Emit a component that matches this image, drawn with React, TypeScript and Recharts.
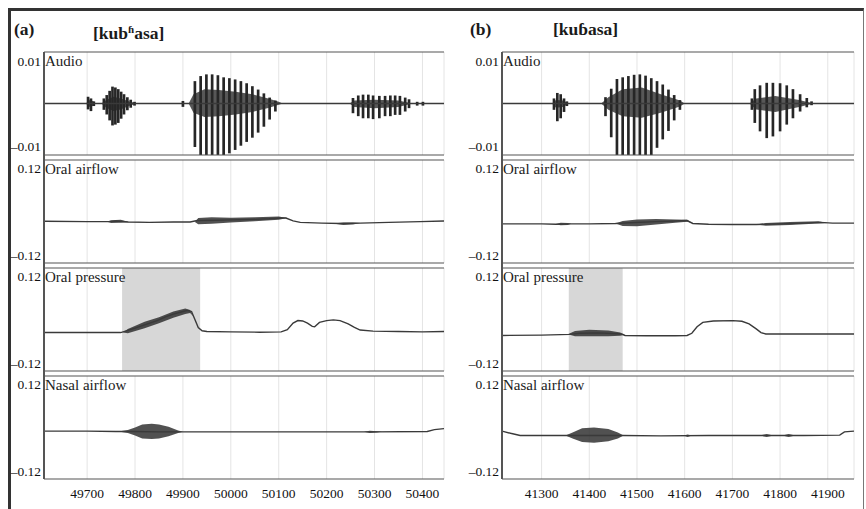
import React from "react";
import { ComposedChart, Line, Area, XAxis, YAxis, CartesianGrid, ReferenceArea, ReferenceLine } from "recharts";

const SERIF = "'Liberation Serif', 'Times New Roman', Times, 'DejaVu Serif', serif";

// x ranges and tick labels
const domainA = [49610, 50445];
const ticksA = [49700, 49800, 49900, 50000, 50100, 50200, 50300, 50400];
const domainB = [41217, 41955];
const ticksB = [41300, 41400, 41500, 41600, 41700, 41800, 41900];

const audioMax = 0.0122;
const audioTicks = [-0.01, 0.01];
const flowMax = 0.142;
const flowTicks = [-0.12, 0.12];

// audio: individual pulses [t, lo, hi]
const audioPulsesA = [
  [49702, -0.0014, 0.0016], [49708, -0.0018, 0.0012], [49714, -0.0006, 0.0005],
  [49735, -0.0015, 0.0012], [49741, -0.0026, 0.002], [49747, -0.004, 0.003],
  [49753, -0.0052, 0.004], [49759, -0.005, 0.0038], [49765, -0.0046, 0.0034],
  [49771, -0.0036, 0.0028], [49777, -0.0026, 0.0022], [49784, -0.0016, 0.0015],
  [49791, -0.001, 0.0009], [49799, -0.0005, 0.0004],
  [49900, -0.0008, 0.0006],
  [49925, -0.0103, 0.0053], [49937, -0.0122, 0.0065], [49949, -0.0122, 0.0069],
  [49961, -0.0122, 0.0069], [49973, -0.0122, 0.0067], [49985, -0.0122, 0.0062],
  [49997, -0.0118, 0.006], [50009, -0.011, 0.0057], [50021, -0.01, 0.0053],
  [50033, -0.0091, 0.0048], [50045, -0.0081, 0.0041], [50057, -0.0069, 0.0033],
  [50069, -0.0055, 0.0024], [50081, -0.0038, 0.0014], [50093, -0.0019, 0.0007],
  [50255, -0.0023, 0.0013], [50266, -0.003, 0.0019], [50276, -0.0035, 0.0021],
  [50287, -0.0035, 0.0021], [50297, -0.0037, 0.0019], [50310, -0.0035, 0.0018],
  [50322, -0.003, 0.0018], [50333, -0.003, 0.0019], [50343, -0.0027, 0.0019],
  [50353, -0.0027, 0.0018], [50364, -0.0019, 0.0014], [50372, -0.0011, 0.001],
  [50389, -0.0005, 0.0004], [50401, -0.0005, 0.0004],
];
const audioPulsesB = [
  [41326, -0.0015, 0.0012], [41333, -0.0042, 0.0025], [41340, -0.0035, 0.0022],
  [41347, -0.002, 0.0012], [41353, -0.0006, 0.0005],
  [41434, -0.003, 0.0015], [41446, -0.008, 0.0035], [41458, -0.0122, 0.0058],
  [41470, -0.0122, 0.0062], [41482, -0.0122, 0.0065], [41494, -0.0122, 0.0068],
  [41506, -0.0122, 0.0069], [41518, -0.0122, 0.0066], [41530, -0.0122, 0.006],
  [41542, -0.0105, 0.0053], [41554, -0.0085, 0.0045], [41566, -0.0065, 0.0033],
  [41578, -0.004, 0.002], [41590, -0.0015, 0.0008],
  [41741, -0.0015, 0.0012], [41747, -0.0046, 0.0034], [41758, -0.0066, 0.0043],
  [41772, -0.0082, 0.0049], [41785, -0.0078, 0.0049], [41800, -0.0066, 0.0048],
  [41814, -0.005, 0.0043], [41827, -0.0035, 0.0034], [41842, -0.0019, 0.0022],
  [41856, -0.0009, 0.0013], [41866, -0.0004, 0.0005],
];

// audio: dense core envelope [t, lo, hi]
const audioCoreA = [
  [49610, 0, 0], [49698, 0, 0], [49703, -0.0008, 0.0008], [49712, -0.0006, 0.0006], [49718, 0, 0],
  [49730, 0, 0], [49740, -0.001, 0.0008], [49755, -0.0018, 0.0016], [49770, -0.0014, 0.0012],
  [49790, -0.0005, 0.0004], [49805, 0, 0], [49912, 0, 0], [49922, -0.0022, 0.0022],
  [49945, -0.0032, 0.0034], [49975, -0.003, 0.0032], [50010, -0.0026, 0.0028],
  [50045, -0.002, 0.0022], [50080, -0.001, 0.0011], [50100, -0.0003, 0.0004], [50108, 0, 0],
  [50248, 0, 0], [50258, -0.0008, 0.0007], [50300, -0.0011, 0.0009], [50350, -0.0008, 0.0007],
  [50378, 0, 0], [50445, 0, 0],
];
const audioCoreB = [
  [41217, 0, 0], [41322, 0, 0], [41330, -0.001, 0.0008], [41345, -0.0008, 0.0007], [41356, 0, 0],
  [41425, 0, 0], [41440, -0.0015, 0.0015], [41470, -0.003, 0.0034], [41510, -0.0034, 0.0038],
  [41550, -0.0022, 0.0022], [41590, -0.0007, 0.0007], [41600, 0, 0], [41736, 0, 0],
  [41750, -0.0014, 0.0012], [41790, -0.002, 0.0018], [41840, -0.0008, 0.0008], [41870, 0, 0],
  [41955, 0, 0],
];

// slow traces [t, v]
const flowA = [
  [49610, -0.027], [49700, -0.028], [49745, -0.028], [49760, -0.026], [49785, -0.029],
  [49830, -0.03], [49880, -0.029], [49915, -0.029], [49930, -0.025], [49970, -0.024],
  [50000, -0.023], [50040, -0.022], [50080, -0.02], [50105, -0.018], [50115, -0.018],
  [50130, -0.026], [50145, -0.03], [50190, -0.032], [50230, -0.033], [50270, -0.032],
  [50330, -0.03], [50395, -0.028], [50445, -0.026],
];
const pressureA = [
  [49610, -0.036], [49700, -0.036], [49770, -0.036], [49780, -0.032], [49800, -0.024],
  [49820, -0.015], [49846, -0.003], [49865, 0.008], [49880, 0.015], [49900, 0.022],
  [49910, 0.025], [49918, 0.022], [49925, 0.0], [49932, -0.022], [49940, -0.031],
  [49950, -0.033], [50000, -0.034], [50060, -0.035], [50105, -0.034], [50118, -0.028],
  [50130, -0.01], [50140, -0.003], [50150, -0.004], [50160, -0.01], [50170, -0.019],
  [50175, -0.02], [50185, -0.008], [50200, -0.003], [50214, -0.001], [50228, -0.003],
  [50245, -0.012], [50258, -0.022], [50270, -0.029], [50297, -0.032], [50350, -0.033],
  [50400, -0.034], [50445, -0.033],
];
const nasalA = [
  [49610, -0.01], [49700, -0.01], [49760, -0.011], [49795, -0.011], [49850, -0.012],
  [49900, -0.012], [50000, -0.012], [50100, -0.012], [50200, -0.012], [50300, -0.012],
  [50410, -0.011], [50425, -0.006], [50445, -0.003],
];
const flowB = [
  [41217, -0.034], [41300, -0.034], [41330, -0.035], [41360, -0.034], [41400, -0.034],
  [41455, -0.033], [41485, -0.031], [41540, -0.028], [41580, -0.026], [41605, -0.025],
  [41617, -0.033], [41650, -0.035], [41700, -0.036], [41750, -0.036], [41800, -0.034],
  [41850, -0.032], [41884, -0.03], [41910, -0.032], [41955, -0.032],
];
const pressureB = [
  [41217, -0.044], [41300, -0.043], [41359, -0.041], [41380, -0.038], [41420, -0.037],
  [41468, -0.04], [41475, -0.044], [41520, -0.045], [41580, -0.045], [41605, -0.044],
  [41615, -0.038], [41626, -0.02], [41638, -0.008], [41660, -0.004], [41701, -0.003],
  [41720, -0.005], [41735, -0.012], [41750, -0.026], [41760, -0.036], [41770, -0.04],
  [41850, -0.04], [41955, -0.04],
];
const nasalB = [
  [41217, -0.01], [41235, -0.016], [41255, -0.022], [41300, -0.022], [41345, -0.022],
  [41470, -0.022], [41550, -0.023], [41650, -0.022], [41750, -0.022], [41850, -0.022],
  [41925, -0.021], [41935, -0.012], [41955, -0.01],
];

// ripple bands [t, lo, hi]
const flowBandsA = [
  [[49742, -0.028, -0.028], [49750, -0.032, -0.024], [49770, -0.031, -0.023], [49788, -0.029, -0.029]],
  [[49925, -0.029, -0.029], [49932, -0.035, -0.018], [49960, -0.034, -0.016], [50000, -0.03, -0.017],
   [50050, -0.027, -0.016], [50100, -0.023, -0.014], [50118, -0.018, -0.018]],
  [[50213, -0.033, -0.033], [50235, -0.037, -0.03], [50255, -0.036, -0.03], [50270, -0.032, -0.032]],
];
const pressureBandsA = [
  [[49775, -0.036, -0.036], [49785, -0.038, -0.026], [49820, -0.024, -0.006], [49850, -0.01, 0.006],
   [49880, 0.005, 0.022], [49905, 0.015, 0.03], [49915, 0.018, 0.026], [49922, 0.008, 0.008]],
];
const nasalBandsA = [
  [[49765, -0.011, -0.011], [49785, -0.015, -0.007], [49800, -0.022, 0.0], [49815, -0.03, 0.008],
   [49835, -0.032, 0.01], [49850, -0.03, 0.008], [49870, -0.024, 0.002], [49890, -0.015, -0.008],
   [49900, -0.012, -0.012]],
  [[50278, -0.012, -0.012], [50290, -0.015, -0.009], [50305, -0.014, -0.01], [50315, -0.012, -0.012]],
];
const flowBandsB = [
  [[41328, -0.035, -0.035], [41340, -0.038, -0.031], [41355, -0.037, -0.032], [41362, -0.034, -0.034]],
  [[41455, -0.033, -0.033], [41470, -0.04, -0.026], [41500, -0.041, -0.022], [41540, -0.036, -0.021],
   [41580, -0.031, -0.022], [41605, -0.028, -0.023], [41615, -0.031, -0.031]],
  [[41750, -0.036, -0.036], [41770, -0.039, -0.032], [41820, -0.037, -0.029], [41880, -0.033, -0.027],
   [41900, -0.032, -0.032]],
];
const pressureBandsB = [
  [[41355, -0.041, -0.041], [41370, -0.046, -0.032], [41400, -0.046, -0.028], [41440, -0.046, -0.03],
   [41465, -0.045, -0.036], [41472, -0.043, -0.043]],
];
const nasalBandsB = [
  [[41350, -0.022, -0.022], [41365, -0.03, -0.014], [41385, -0.04, -0.002], [41410, -0.042, 0.0],
   [41440, -0.038, -0.004], [41460, -0.03, -0.014], [41472, -0.022, -0.022]],
  [[41598, -0.022, -0.022], [41606, -0.026, -0.019], [41615, -0.022, -0.022]],
  [[41758, -0.022, -0.022], [41772, -0.026, -0.018], [41786, -0.022, -0.022]],
  [[41805, -0.022, -0.022], [41818, -0.026, -0.018], [41832, -0.022, -0.022]],
];

const shadeA = [49773, 49936];
const shadeB = [41357, 41470];

const rowTops = [52, 160, 268, 376];
const plotH = 103;
const rowLabels = ["Audio", "Oral airflow", "Oral pressure", "Nasal airflow"];
const PULSE_HALF = 2.8; // half width of a glottal pulse stroke, in x units

const toPts = (a: number[][]) => a.map(([t, v]) => ({ t, v }));
const toRange = (a: number[][]) => a.map(([t, lo, hi]) => ({ t, lo, hi }));
const rng = (d: any) => [d.lo, d.hi];
const fmt = (v: number) => (v < 0 ? "\u2013" + String(Math.abs(v)) : String(v));

const tickStyle = { fontFamily: SERIF, fontSize: 13.5, fill: "#111" };
const INK = "#3a3a3a";

function Strip(props: any) {
  const { left, top, yw, plotW, domain, ticks, yMax, yTicks, pulses, core, trace, bands, shade, showX, label } = props;
  const xh = showX ? 28 : 0;
  return (
    <div style={{ position: "absolute", left, top: top - 1 }}>
      <ComposedChart
        width={yw + plotW + 2}
        height={plotH + 2 + xh}
        margin={{ top: 1, right: 2, bottom: 1, left: 0 }}
        style={{ fontFamily: SERIF }}
      >
        <XAxis
          dataKey="t"
          type="number"
          domain={domain}
          allowDataOverflow
          ticks={ticks}
          interval={0}
          hide={!showX}
          height={xh}
          axisLine={false}
          tickLine={false}
          tickSize={0}
          tickMargin={9}
          tick={tickStyle}
        />
        <YAxis
          type="number"
          domain={[-yMax, yMax]}
          allowDataOverflow
          ticks={yTicks}
          interval={0}
          width={yw}
          axisLine={false}
          tickLine={false}
          tickSize={0}
          tickMargin={3}
          tick={tickStyle}
          tickFormatter={fmt}
        />
        {shade && <ReferenceArea x1={shade[0]} x2={shade[1]} fill="#d7d7d7" fillOpacity={1} stroke="none" />}
        <CartesianGrid horizontal={false} stroke="#e4e4e4" />
        <ReferenceLine y={yMax} stroke="#555" strokeWidth={1.2} />
        <ReferenceLine y={-yMax} stroke="#555" strokeWidth={1.2} />
        {core && (
          <Area data={toRange(core)} dataKey={rng} type="linear" stroke="none" fill="#3a3a3a" fillOpacity={0.85} isAnimationActive={false} />
        )}
        {pulses &&
          pulses.map(([t, lo, hi]: number[], i: number) => (
            <ReferenceArea key={"p" + i} x1={t - PULSE_HALF} x2={t + PULSE_HALF} y1={lo} y2={hi}
              fill="#262626" fillOpacity={1} stroke="none" ifOverflow="hidden" />
          ))}
        {trace && (
          <Line data={toPts(trace)} dataKey="v" type="linear" dot={false} stroke={INK} strokeWidth={1.4} isAnimationActive={false} />
        )}
        {bands &&
          bands.map((b: number[][], i: number) => (
            <Area key={i} data={toRange(b)} dataKey={rng} type="linear" stroke="none" fill="#333" fillOpacity={0.85} isAnimationActive={false} />
          ))}
      </ComposedChart>
      <div style={{ position: "absolute", left: yw + 1, top: 2, fontFamily: SERIF, fontSize: 15, color: "#222", lineHeight: "17px" }}>
        {label}
      </div>
    </div>
  );
}

function Column(props: any) {
  const { left, yw, plotW, domain, ticks, pulses, core, flow, flowBands, pressure, pressureBands, shade, nasal, nasalBands } = props;
  const common = { left, yw, plotW, domain, ticks };
  return (
    <>
      <Strip {...common} top={rowTops[0]} yMax={audioMax} yTicks={audioTicks} pulses={pulses} core={core}
        trace={[[domain[0], 0], [domain[1], 0]]} label={rowLabels[0]} />
      <Strip {...common} top={rowTops[1]} yMax={flowMax} yTicks={flowTicks} trace={flow} bands={flowBands} label={rowLabels[1]} />
      <Strip {...common} top={rowTops[2]} yMax={flowMax} yTicks={flowTicks} trace={pressure} bands={pressureBands} shade={shade} label={rowLabels[2]} />
      <Strip {...common} top={rowTops[3]} yMax={flowMax} yTicks={flowTicks} trace={nasal} bands={nasalBands} showX label={rowLabels[3]} />
      <div style={{ position: "absolute", left: left + yw - 1, top: rowTops[0], width: 1.5, height: rowTops[3] + plotH - rowTops[0], background: "#555" }} />
    </>
  );
}

const titleStyle = { position: "absolute" as const, top: 19, fontFamily: SERIF, fontSize: 17.5, fontWeight: 700, color: "#1a1a1a", lineHeight: "21px" };

export default function App() {
  return (
    <div style={{ position: "absolute", left: 0, top: 0, width: 866, height: 509, background: "#fff", overflow: "hidden", fontFamily: SERIF }}>
      <div style={{ position: "absolute", left: 8, top: 8, width: 852, height: 510, borderTop: "3px solid #333", borderLeft: "3px solid #333", borderRight: "1px solid #777" }} />
      <div style={{ ...titleStyle, left: 14 }}>(a)</div>
      <div style={{ ...titleStyle, left: 93 }}>
        [kub<sup style={{ fontSize: 11, verticalAlign: "6px" }}>ɦ</sup>asa]
      </div>
      <div style={{ ...titleStyle, left: 470 }}>(b)</div>
      <div style={{ ...titleStyle, left: 553 }}>[kuɓasa]</div>
      <Column left={0} yw={44} plotW={400} domain={domainA} ticks={ticksA} pulses={audioPulsesA} core={audioCoreA}
        flow={flowA} flowBands={flowBandsA} pressure={pressureA} pressureBands={pressureBandsA} shade={shadeA}
        nasal={nasalA} nasalBands={nasalBandsA} />
      <Column left={455} yw={47} plotW={352} domain={domainB} ticks={ticksB} pulses={audioPulsesB} core={audioCoreB}
        flow={flowB} flowBands={flowBandsB} pressure={pressureB} pressureBands={pressureBandsB} shade={shadeB}
        nasal={nasalB} nasalBands={nasalBandsB} />
    </div>
  );
}
